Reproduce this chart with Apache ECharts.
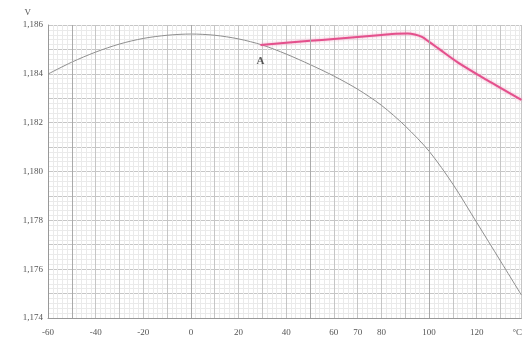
<!DOCTYPE html>
<html><head><meta charset="utf-8">
<script src="https://cdn.jsdelivr.net/npm/echarts@6/dist/echarts.min.js"></script>
<style>html,body{margin:0;padding:0;background:#fff}#c{width:525px;height:342px}</style>
</head><body><div id="c"></div>
<script>
// Axis ticks
const xTickValues = [-60, -40, -20, 0, 20, 40, 60, 70, 80, 100, 120];
const xTickLabels = ['-60', '-40', '-20', '0', '20', '40', '60', '70', '80', '100', '120'];
const yTickValues = [1.174, 1.176, 1.178, 1.180, 1.182, 1.184, 1.186];
const yTickLabels = ['1,174', '1,176', '1,178', '1,180', '1,182', '1,184', '1,186'];
const xUnit = '°C';
const yUnit = 'V';
// Gray curve (uncompensated)
const grayTemps = [-60, -50, -40, -30, -20, -10, 0, 10, 20, 30, 40, 50, 60, 70, 80, 90, 100, 110, 120, 130, 138.75];
const grayVolts = [1.18399, 1.18448, 1.18489, 1.18522, 1.18545, 1.18558, 1.18563, 1.18558, 1.18543, 1.18518, 1.18481, 1.18438, 1.18391, 1.18337, 1.18271, 1.18186, 1.18083, 1.17948, 1.17791, 1.17633, 1.17494];
// Pink curve (starting at point A)
const pinkTemps = [29.2, 40, 50, 60, 70, 80, 86, 91, 94, 97, 100, 104, 112, 124, 138.75];
const pinkVolts = [1.18518, 1.18527, 1.18535, 1.18543, 1.18551, 1.18559, 1.18564, 1.18565, 1.18561, 1.18551, 1.18531, 1.18503, 1.18447, 1.18376, 1.18293];
const pointLabel = 'A';
// Heavier graph-paper lines
const paperMajorTemps = [-50, 0, 50, 100];

const grayData = grayTemps.map((t, i) => [t, grayVolts[i]]);
const pinkData = pinkTemps.map((t, i) => [t, pinkVolts[i]]);

const serif = 'Liberation Serif';
const chart = echarts.init(document.getElementById('c'), null, { renderer: 'canvas' });
chart.setOption({
  animation: false,
  backgroundColor: '#fff',
  grid: { left: 48, right: 0, top: 25, bottom: 24 },
  xAxis: {
    type: 'value', min: -60, max: 138.75, interval: 10,
    name: xUnit, nameLocation: 'end', nameGap: -9,
    nameTextStyle: { color: '#555', fontFamily: serif, fontSize: 9, verticalAlign: 'top', align: 'left', padding: [10, 0, 0, 0] },
    axisLine: { show: true, onZero: false, lineStyle: { color: '#999', width: 1 } },
    axisTick: { show: false },
    axisLabel: {
      customValues: xTickValues, margin: 10, color: '#555', fontFamily: serif, fontSize: 9,
      formatter: v => { const k = xTickValues.findIndex(x => Math.abs(x - v) < 1e-6); return k >= 0 ? xTickLabels[k] : ''; }
    },
    splitLine: { show: true, lineStyle: { color: '#c6c6c6', width: 1 } },
    minorTick: { show: false, splitNumber: 5 },
    minorSplitLine: { show: true, lineStyle: { color: '#eaeaea', width: 1 } }
  },
  yAxis: {
    type: 'value', min: 1.174, max: 1.186, interval: 0.001,
    name: yUnit, nameLocation: 'end', nameGap: 8,
    nameTextStyle: { color: '#555', fontFamily: serif, fontSize: 9, align: 'right', padding: [0, 17, 0, 0] },
    axisLine: { show: true, onZero: false, lineStyle: { color: '#999', width: 1 } },
    axisTick: { show: false },
    axisLabel: {
      customValues: yTickValues, margin: 5, color: '#555', fontFamily: serif, fontSize: 9, padding: [12, 0, 0, 0],
      formatter: v => { const k = yTickValues.findIndex(x => Math.abs(x - v) < 1e-7); return k >= 0 ? yTickLabels[k] : ''; }
    },
    splitLine: { show: true, lineStyle: { color: '#c6c6c6', width: 1 } },
    minorTick: { show: false, splitNumber: 5 },
    minorSplitLine: { show: true, lineStyle: { color: '#eaeaea', width: 1 } }
  },
  series: [
    {
      type: 'line', data: grayData, smooth: 0.3, showSymbol: false, z: 3,
      lineStyle: { color: '#8f8f8f', width: 1 },
      markLine: {
        silent: true, symbol: ['none', 'none'], label: { show: false },
        lineStyle: { color: '#aaaaaa', width: 1, type: 'solid' },
        data: paperMajorTemps.map(t => ({ xAxis: t }))
      }
    },
    {
      type: 'line', data: pinkData, smooth: 0.3, showSymbol: false, z: 4,
      lineStyle: { color: '#e4508c', width: 2, shadowBlur: 3, shadowColor: 'rgba(240,130,175,0.7)' }
    },
    {
      type: 'scatter', data: [pinkData[0]], symbolSize: 1, z: 5, silent: true,
      itemStyle: { color: 'rgba(0,0,0,0)' },
      label: { show: true, formatter: pointLabel, position: 'bottom', distance: 10, color: '#333', fontFamily: serif, fontSize: 11, fontWeight: 'bold' }
    }
  ]
});
</script></body></html>
